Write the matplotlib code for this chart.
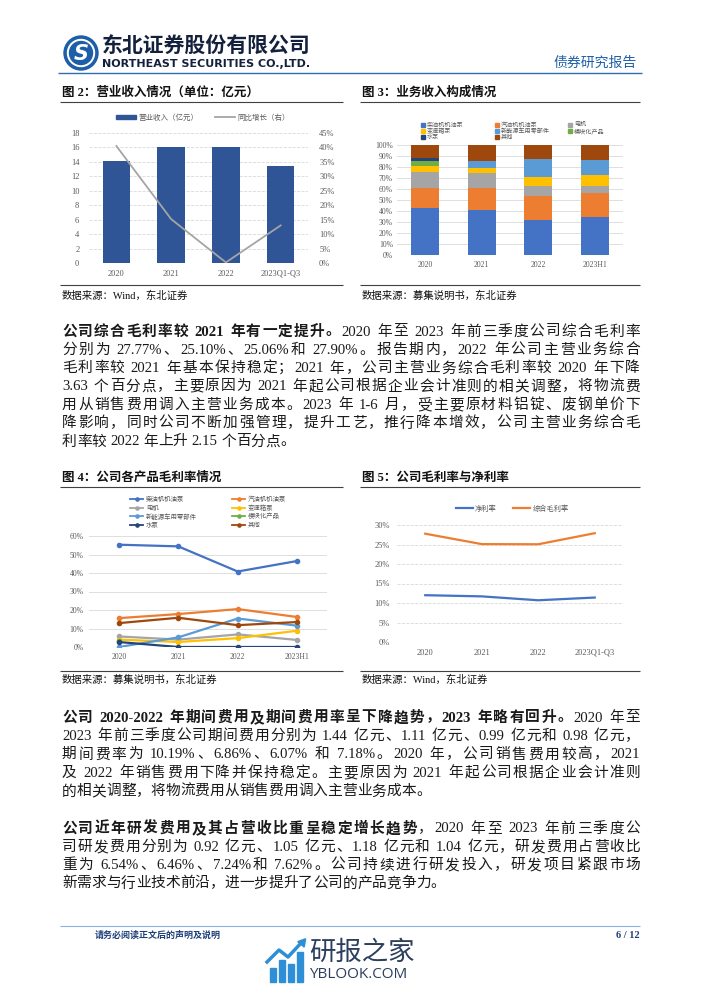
import re
import numpy as np
import matplotlib
matplotlib.use('Agg')
import matplotlib.pyplot as plt
from matplotlib.patches import Circle, Rectangle
from matplotlib.lines import Line2D
from matplotlib.font_manager import FontProperties

plt.rcParams['font.family'] = ['Liberation Serif', 'Noto Sans CJK SC']
plt.rcParams['axes.unicode_minus'] = False

W, H = 702, 991
BODY = ['Liberation Serif', 'Noto Sans CJK SC']
GRAY = '#595959'

# ---------------- data ----------------
# fig 2: revenue
rev_years = ['2020', '2021', '2022', '2023Q1-Q3']
revenue = [14.1, 16.1, 16.1, 13.5]          # 亿元
revenue_yoy = [40.5, 15.2, 0.2, 13.0]       # %

# fig 3 / fig 4: product breakdown
prod_years = ['2020', '2021', '2022', '2023H1']
products = ['柴油机机油泵', '汽油机机油泵', '电机', '变速箱泵',
            '新能源车用零部件', '模块化产品', '水泵', '其他']
prod_colors = ['#4472C4', '#ED7D31', '#A5A5A5', '#FFC000',
               '#5B9BD5', '#70AD47', '#264478', '#9E480E']

share_diesel = [42.7, 40.9, 31.7, 34.5]
share_petrol = [18.6, 20.4, 22.3, 21.9]
share_motor = [14.3, 12.8, 9.1, 6.4]
share_gearbox = [4.9, 5.2, 8.2, 9.8]
share_nev = [0.2, 6.1, 16.2, 13.7]
share_module = [5.0, 0.0, 0.0, 0.0]
share_pump = [2.1, 0.0, 0.0, 0.0]
share_other = [12.2, 14.6, 12.5, 13.7]

gm_diesel = [55.3, 54.4, 40.8, 46.5]
gm_petrol = [15.6, 17.8, 20.5, 16.2]
gm_motor = [5.7, 4.0, 6.8, 3.8]
gm_gearbox = [4.0, 2.7, 4.8, 8.8]
gm_nev = [0.0, 5.2, 15.4, 11.5]
gm_module = [3.5, np.nan, np.nan, np.nan]
gm_pump = [2.7, 0.0, 0.0, 0.0]
gm_other = [12.9, 15.8, 11.8, 13.5]

# fig 5: margins
margin_years = ['2020', '2021', '2022', '2023Q1-Q3']
net_margin = [12.0, 11.7, 10.7, 11.4]
gross_margin = [27.77, 25.10, 25.06, 27.90]

# ---------------- page ----------------
fig = plt.figure(figsize=(W / 100, H / 100), dpi=100)
bg = fig.add_axes([0, 0, 1, 1])
bg.set_xlim(0, W)
bg.set_ylim(H, 0)
bg.axis('off')
renderer = fig.canvas.get_renderer()


def box(x0, y0, x1, y1):
    return fig.add_axes([x0 / W, 1 - y1 / H, (x1 - x0) / W, (y1 - y0) / H])


def hline(y, x0, x1, color='#404040', lw=0.8):
    bg.plot([x0, x1], [y, y], color=color, lw=lw, solid_capstyle='butt')


# header
bg.add_patch(Circle((81, 53), 17, color='#1d5ea8'))
bg.add_patch(Circle((81, 53), 13.5, color='white'))
bg.add_patch(Circle((81, 53), 11.5, color='#1d5ea8'))
bg.text(81, 53.5, 'S', color='white', fontsize=15, fontweight='bold', style='italic',
        family='DejaVu Sans', ha='center', va='center')
bg.text(102, 46, '东北证券股份有限公司', fontsize=15, fontweight='heavy', color='#14213d',
        family=['Noto Sans CJK SC'], va='center')
bg.text(102, 64, 'NORTHEAST SECURITIES CO.,LTD.', fontsize=8, fontweight='bold',
        color='#14213d', family='DejaVu Sans', va='center')
bg.text(637, 63, '债券研究报告', fontsize=10, color='#1f5fa8', ha='right', va='center',
        family=['Noto Sans CJK SC'])
hline(73, 58, 642, color='#2e6db4', lw=1.0)

# footer
hline(926, 60, 640, color='#8db3e2', lw=0.8)
bg.text(95, 935, '请务必阅读正文后的声明及说明', fontsize=6.5, color='#1f3f7a', fontweight='bold',
        va='center')
bg.text(640, 935, '6 / 12', fontsize=7.5, color='#1f3f7a', fontweight='bold', ha='right',
        va='center')
for bx, bh in zip([270, 279, 288, 297], [14, 22, 18, 30]):
    bg.add_patch(Rectangle((bx, 982 - bh), 6, bh, color='#2f8fd6'))
bg.plot([267, 279, 288, 302], [962, 950, 957, 942], color='#2f8fd6', lw=2.5)
bg.plot([302], [942], marker=(3, 0, -40), color='#2f8fd6', ms=7)
bg.text(309, 952, '研报之家', fontsize=19, color='#2b3e5c', family=['Noto Sans CJK SC'],
        va='center')
bg.text(309, 975, 'YBLOOK.COM', fontsize=11, color='#2b3e5c', family='Open Sans',
        va='center')

# captions and rules
for x, y, s in [(62, 93, '图 2：营业收入情况（单位：亿元）'), (362, 93, '图 3：业务收入构成情况'),
                (62, 478, '图 4：公司各产品毛利率情况'), (362, 478, '图 5：公司毛利率与净利率')]:
    bg.text(x, y, s, fontsize=9, fontweight='bold', va='center', color='#111111')
for x, y, s in [(62, 296, '数据来源：Wind，东北证券'), (362, 296, '数据来源：募集说明书，东北证券'),
                (62, 680, '数据来源：募集说明书，东北证券'), (362, 680, '数据来源：Wind，东北证券')]:
    bg.text(x, y, s, fontsize=7.5, va='center', color='#111111')
for y in (102, 285, 487, 671):
    hline(y, 60, 343)
    hline(y, 360, 640)

# ---------------- body text ----------------
TOKEN = re.compile(r'[A-Za-z0-9.%\-/]+| |[^ A-Za-z0-9.%\-/]')
_cache = {}


def adv(tok, bold, size):
    key = (tok, bold, size)
    if key not in _cache:
        fp = FontProperties(family=BODY, weight='bold' if bold else 'normal', size=size)
        a = renderer.get_text_width_height_descent('|' + tok + '|', fp, ismath=False)[0]
        b = renderer.get_text_width_height_descent('||', fp, ismath=False)[0]
        _cache[key] = a - b
    return _cache[key]


def text_line(y, runs, justify=True, x0=62, x1=640, size=10.6):
    items = []
    for s, bold in runs:
        for tok in TOKEN.findall(s):
            items.append((tok, bold, adv(tok, bold, size)))
    total = sum(w for _, _, w in items)
    gap = (x1 - x0 - total) / (len(items) - 1) if justify else 0
    x = x0
    for tok, bold, w in items:
        if tok != ' ':
            bg.text(x, y, tok, fontsize=size, fontweight='bold' if bold else 'normal',
                    va='center', ha='left', color='#1a1a1a')
        x += w + gap


def paragraph(y0, step, lines):
    for i, runs in enumerate(lines):
        text_line(y0 + i * step, runs, justify=(i < len(lines) - 1))


N, B = False, True
paragraph(332, 18.3, [
    [('公司综合毛利率较 2021 年有一定提升。', B), ('2020 年至 2023 年前三季度公司综合毛利率', N)],
    [('分别为 27.77%、25.10%、25.06%和 27.90%。报告期内，2022 年公司主营业务综合', N)],
    [('毛利率较 2021 年基本保持稳定；2021 年，公司主营业务综合毛利率较 2020 年下降', N)],
    [('3.63 个百分点，主要原因为 2021 年起公司根据企业会计准则的相关调整，将物流费', N)],
    [('用从销售费用调入主营业务成本。2023 年 1-6 月，受主要原材料铝锭、废钢单价下', N)],
    [('降影响，同时公司不断加强管理，提升工艺，推行降本增效，公司主营业务综合毛', N)],
    [('利率较 2022 年上升 2.15 个百分点。', N)],
])
paragraph(718, 18.4, [
    [('公司 2020-2022 年期间费用及期间费用率呈下降趋势，2023 年略有回升。', B), ('2020 年至', N)],
    [('2023 年前三季度公司期间费用分别为 1.44 亿元、1.11 亿元、0.99 亿元和 0.98 亿元，', N)],
    [('期间费率为 10.19%、6.86%、6.07% 和 7.18%。2020 年，公司销售费用较高，2021', N)],
    [('及 2022 年销售费用下降并保持稳定。主要原因为 2021 年起公司根据企业会计准则', N)],
    [('的相关调整，将物流费用从销售费用调入主营业务成本。', N)],
])
paragraph(829, 18.2, [
    [('公司近年研发费用及其占营收比重呈稳定增长趋势', B), ('，2020 年至 2023 年前三季度公', N)],
    [('司研发费用分别为 0.92 亿元、1.05 亿元、1.18 亿元和 1.04 亿元，研发费用占营收比', N)],
    [('重为 6.54%、6.46%、7.24%和 7.62%。公司持续进行研发投入，研发项目紧跟市场', N)],
    [('新需求与行业技术前沿，进一步提升了公司的产品竞争力。', N)],
])


# ---------------- charts ----------------
def clean(ax, grid_ls='-'):
    for s in ax.spines.values():
        s.set_visible(False)
    ax.grid(axis='y', color='#d9d9d9', lw=0.6, ls=grid_ls)
    ax.set_axisbelow(True)
    ax.tick_params(length=0, labelsize=6, colors=GRAY)


def pct(v):
    return ['%d%%' % t for t in v]


# fig 2
ax = box(89, 133, 308, 263)
x = np.arange(len(rev_years))
ax.bar(x, revenue, width=0.5, color='#2F5597', zorder=2)
ax.set_xlim(-0.5, 3.5)
ax.set_ylim(0, 18)
ax.set_yticks(range(0, 19, 2))
ax.set_xticks(x, rev_years)
clean(ax, '--')
ax.tick_params(axis='y', pad=7)
ax.tick_params(axis='x', pad=5)
ax2 = ax.twinx()
ax2.plot(x, revenue_yoy, color='#A5A5A5', lw=1.3)
ax2.set_ylim(0, 45)
ax2.set_yticks(range(0, 46, 5), pct(range(0, 46, 5)))
for s in ax2.spines.values():
    s.set_visible(False)
ax2.tick_params(length=0, labelsize=6, colors=GRAY, pad=8)
fig.legend([Rectangle((0, 0), 1, 1, color='#2F5597'), Line2D([], [], color='#A5A5A5', lw=1.3)],
           ['营业收入（亿元）', '同比增长（右）'], loc='center', bbox_to_anchor=(203 / W, 1 - 117 / H),
           ncol=2, frameon=False, fontsize=5.4, labelcolor=GRAY, handlelength=2.6,
           handleheight=0.6, columnspacing=2.2, handletextpad=0.4)

# fig 3
ax = box(397, 145, 623, 255)
x = np.arange(len(prod_years))
shares = [share_diesel, share_petrol, share_motor, share_gearbox,
          share_nev, share_module, share_pump, share_other]
bottom = np.zeros(len(prod_years))
for vals, c in zip(shares, prod_colors):
    vals = np.array(vals) / 100
    ax.bar(x, vals, bottom=bottom, width=0.5, color=c, zorder=2)
    bottom += vals
ax.set_xlim(-0.5, 3.5)
ax.set_ylim(0, 1)
ax.set_yticks(np.arange(0, 1.01, 0.1), pct(range(0, 101, 10)))
ax.set_xticks(x, prod_years)
clean(ax)
ax.tick_params(labelsize=5.5)
ax.tick_params(axis='y', pad=3)
ax.tick_params(axis='x', pad=4)
# legend laid out on Excel's fixed grid: 3 columns x 3 rows
for i, (name, c) in enumerate(zip(products, prod_colors)):
    lx = [423, 497, 570][i % 3]
    ly = 125 + 6 * (i // 3)
    bg.plot([lx], [ly], ls='', marker='s', ms=2.6, color=c)
    bg.text(lx + 4, ly, name, fontsize=4.4, color=GRAY, va='center')

# fig 4
ax = box(89, 536, 327, 647)
x = np.arange(len(prod_years))
margins = [gm_diesel, gm_petrol, gm_motor, gm_gearbox, gm_nev, gm_module, gm_pump, gm_other]
for vals, c in zip(margins, prod_colors):
    ax.plot(x, vals, color=c, lw=1.6, marker='o', ms=3, zorder=3)
ax.set_xlim(-0.5, 3.5)
ax.set_ylim(0, 60)
ax.set_yticks(range(0, 61, 10), pct(range(0, 61, 10)))
ax.set_xticks(x, prod_years)
clean(ax)
ax.tick_params(labelsize=5.5)
ax.tick_params(axis='y', pad=4)
ax.tick_params(axis='x', pad=4)
# legend: 2 columns x 4 rows
for i, (name, c) in enumerate(zip(products, prod_colors)):
    lx = [130, 232][i % 2]
    ly = 499 + 8.6 * (i // 2)
    bg.plot([lx, lx + 13], [ly, ly], color=c, lw=1.3)
    bg.plot([lx + 6.5], [ly], marker='o', ms=2.3, color=c)
    bg.text(lx + 16, ly, name, fontsize=4.6, color=GRAY, va='center')

# fig 5
ax = box(397, 525, 623, 642)
x = np.arange(len(margin_years))
ax.plot(x, net_margin, color='#4472C4', lw=1.6, label='净利率')
ax.plot(x, gross_margin, color='#ED7D31', lw=1.6, label='综合毛利率')
ax.set_xlim(-0.5, 3.5)
ax.set_ylim(0, 30)
ax.set_yticks(range(0, 31, 5), pct(range(0, 31, 5)))
ax.set_xticks(x, margin_years)
clean(ax, '--')
ax.tick_params(axis='y', pad=5)
ax.tick_params(axis='x', pad=5)
fig.legend(*ax.get_legend_handles_labels(), loc='center', bbox_to_anchor=(512 / W, 1 - 508 / H),
           ncol=2, frameon=False, fontsize=5.2, labelcolor=GRAY, handlelength=2.4,
           handletextpad=0.3, columnspacing=2.2)

fig.savefig('out.png', dpi=100)
